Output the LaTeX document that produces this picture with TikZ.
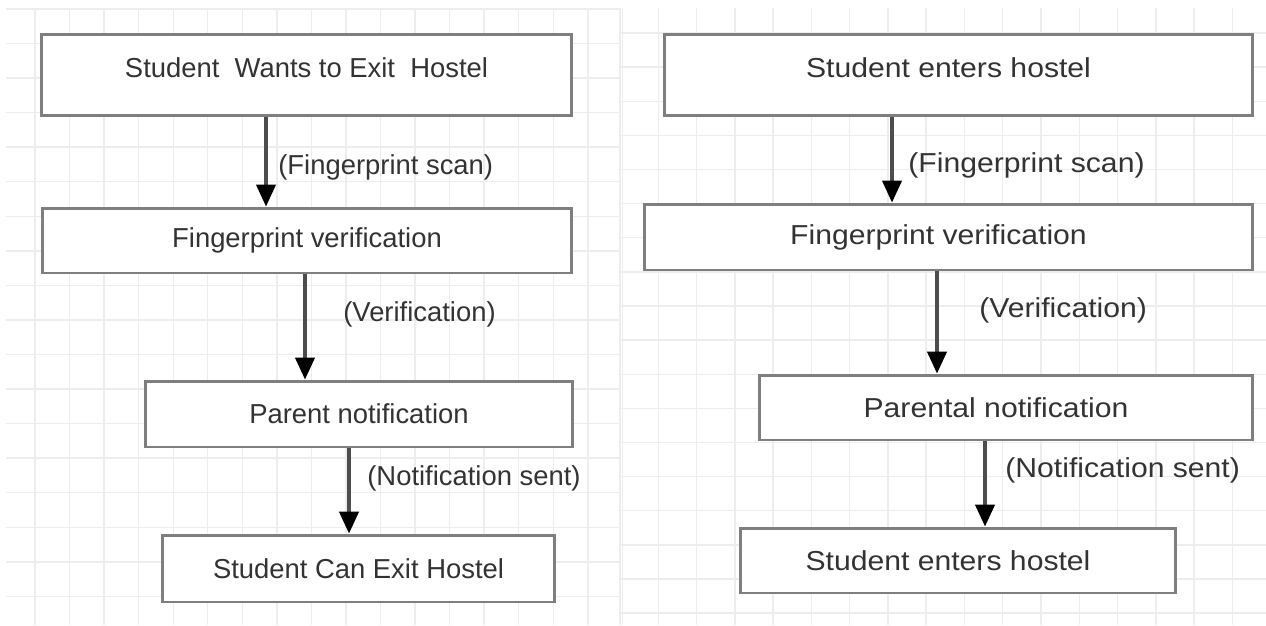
\documentclass[tikz,border=0pt]{standalone}
\usepackage{xcolor}
\usepackage{graphicx}
\usepackage{fontspec}
\setmainfont{Liberation Sans}
\usepackage{tikz}
\usetikzlibrary{arrows.meta, calc}

\definecolor{grigliacol}{HTML}{EDEDED}
\definecolor{bordocol}{HTML}{7F7F7F}
\definecolor{frecciacol}{HTML}{4D4D4D}
\definecolor{testocol}{HTML}{333333}

\begin{document}
\begin{tikzpicture}[x=0.02cm, y=-0.02cm,
        >={Triangle[width=11pt,length=12.5pt,color=black]},
        griglia/.style={grigliacol, line width=0.8pt},
        blocco/.style={draw=bordocol, line width=1.7pt, fill=white, inner sep=0pt,
            text=testocol, font=\fontsize{15.6}{18}\selectfont},
        alto/.style={text depth=0.28cm},
        spostato/.style={execute at end node={\hspace*{0.4cm}}},
        flusso/.style={->, frecciacol, line width=1.9pt},
        etichetta/.style={anchor=west, inner sep=0pt, text=testocol,
            font=\fontsize{15.6}{18}\selectfont}]
        % Area della figura
        \useasboundingbox (0,0) rectangle (1266,625);
        \fill[white] (0,0) rectangle (1266,625);

        % Griglia sinistra
        \foreach \i in {0,...,17} {
            \draw[griglia] (35+34.55*\i,9) -- (35+34.55*\i,625);
            \draw[griglia] (6,9+34.55*\i) -- (621,9+34.55*\i);
        }

        % Griglia destra
        \foreach \i in {0,...,16} {
            \draw[griglia] (620+38.27*\i,8) -- (620+38.27*\i,625);
        }
        \foreach \j in {0,...,17} {
            \draw[griglia] (620,33+34.12*\j) -- (1266,33+34.12*\j);
        }

        % Blocchi a sinistra
        \node[blocco, alto, minimum width=10.62cm, minimum height=1.64cm] (l1) at (306.5,75)
            {Student\ \ Wants to Exit\ \ Hostel};
        \node[blocco, minimum width=10.6cm, minimum height=1.3cm] (l2) at (307,240.5)
            {Fingerprint verification};
        \node[blocco, minimum width=8.56cm, minimum height=1.32cm] (l3) at (359,414)
            {Parent notification};
        \node[blocco, minimum width=7.86cm, minimum height=1.34cm] (l4) at (358.5,568.5)
            {Student Can Exit Hostel};

        % Blocchi a destra (testo allargato)
        \node[blocco, alto, spostato, minimum width=11.78cm, minimum height=1.64cm] (r1) at (958.5,75)
            {\scalebox{1.1}[1]{Student enters hostel}};
        \node[blocco, spostato, minimum width=12.18cm, minimum height=1.32cm] (r2) at (948.5,237)
            {\scalebox{1.1}[1]{Fingerprint verification}};
        \node[blocco, spostato, minimum width=9.88cm, minimum height=1.3cm] (r3) at (1006,407.5)
            {\scalebox{1.1}[1]{Parental notification}};
        \node[blocco, spostato, minimum width=8.72cm, minimum height=1.3cm] (r4) at (958,560.5)
            {\scalebox{1.1}[1]{Student enters hostel}};

        % Posizioni delle frecce
        \coordinate (la) at (266,0);
        \coordinate (lb) at (305,0);
        \coordinate (lc) at (349,0);
        \coordinate (ra) at (892,0);
        \coordinate (rb) at (937,0);
        \coordinate (rc) at (985,0);

        % Frecce a sinistra
        \draw[flusso] (l1.south -| la) -- (l2.north -| la);
        \draw[flusso] (l2.south -| lb) -- (l3.north -| lb);
        \draw[flusso] (l3.south -| lc) -- (l4.north -| lc);

        % Frecce a destra
        \draw[flusso] (r1.south -| ra) -- (r2.north -| ra);
        \draw[flusso] (r2.south -| rb) -- (r3.north -| rb);
        \draw[flusso] (r3.south -| rc) -- (r4.north -| rc);

        % Etichette delle frecce
        \node[etichetta] (el1) at (278,167) {(Fingerprint scan)};
        \node[etichetta] (el2) at (343,314) {(Verification)};
        \node[etichetta] (el3) at (367,478) {(Notification sent)};
        \node[etichetta] (er1) at (908,165) {\scalebox{1.1}[1]{(Fingerprint scan)}};
        \node[etichetta] (er2) at (979,310) {\scalebox{1.1}[1]{(Verification)}};
        \node[etichetta] (er3) at (1005,470) {\scalebox{1.1}[1]{(Notification sent)}};
    \end{tikzpicture}
\end{document}
